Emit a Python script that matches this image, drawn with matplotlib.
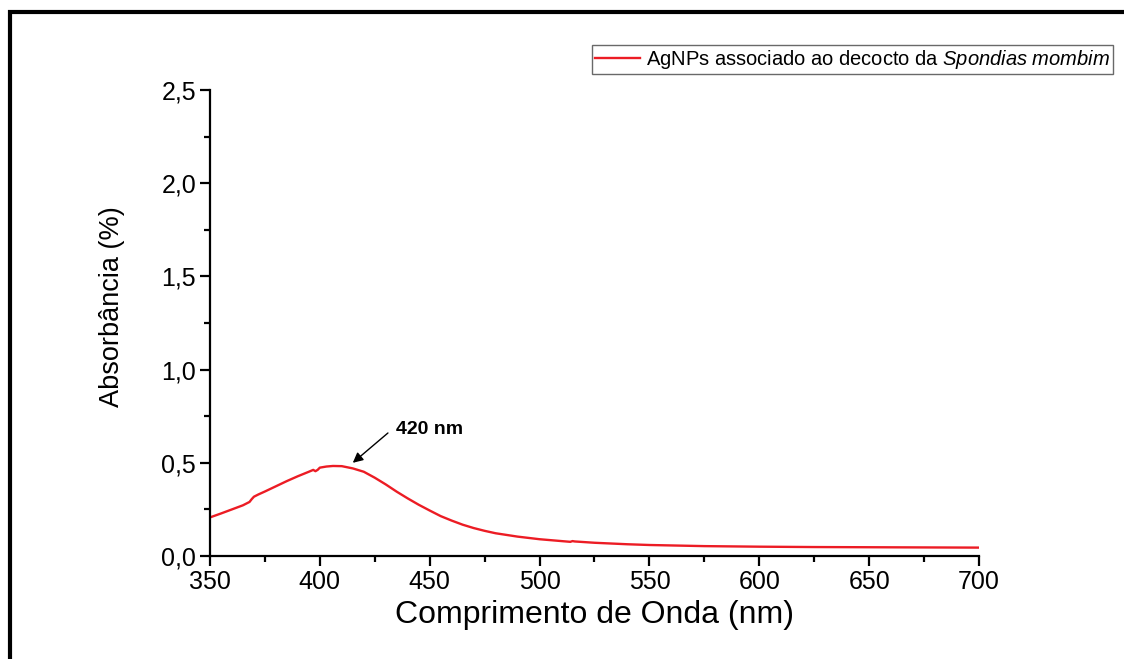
import matplotlib
matplotlib.use("Agg")
import matplotlib.pyplot as plt
from matplotlib import font_manager
from matplotlib.patches import Rectangle

# UV-Vis spectrum of the AgNPs sample (wavelength in nm, absorbance)
wavelength = [350, 355, 360, 365, 368, 369, 370, 372, 375, 380, 385, 390, 395, 397,
              398, 399, 400, 403, 406, 410, 415, 420, 425, 430, 435, 440, 445, 450,
              455, 460, 465, 470, 475, 480, 490, 500, 510, 514, 515, 516, 525, 540,
              550, 575, 600, 625, 650, 675, 700]
absorbance = [0.207, 0.228, 0.250, 0.272, 0.290, 0.305, 0.318, 0.330, 0.346, 0.374, 0.402,
              0.428, 0.452, 0.462, 0.455, 0.462, 0.474, 0.480, 0.483, 0.482, 0.470, 0.452,
              0.420, 0.384, 0.345, 0.309, 0.275, 0.244, 0.214, 0.190, 0.168, 0.150, 0.135,
              0.122, 0.104, 0.090, 0.080, 0.076, 0.080, 0.078, 0.071, 0.063, 0.059, 0.053,
              0.050, 0.048, 0.047, 0.046, 0.045]

x_ticks = [350, 400, 450, 500, 550, 600, 650, 700]
y_ticks = [0.0, 0.5, 1.0, 1.5, 2.0, 2.5]
y_tick_labels = ["0,0", "0,5", "1,0", "1,5", "2,0", "2,5"]

series_label = "AgNPs associado ao decocto da $\\it{Spondias\\ mombim}$"
peak_label = "420 nm"
arrow_head = (415, 0.50)
arrow_tail = (431, 0.66)
peak_text_xy = (434.5, 0.68)

available = {f.name for f in font_manager.fontManager.ttflist}
narrow = "Liberation Sans Narrow" if "Liberation Sans Narrow" in available else "Liberation Sans"

plt.rcParams["font.family"] = ["Liberation Sans", "DejaVu Sans"]
plt.rcParams["mathtext.fontset"] = "custom"
plt.rcParams["mathtext.rm"] = "Liberation Sans"
plt.rcParams["mathtext.it"] = "Liberation Sans:italic"

fig = plt.figure(figsize=(11.24, 6.59), dpi=100)
ax = fig.add_axes([0.1868, 0.1563, 0.6842, 0.7071])

ax.plot(wavelength, absorbance, color="#ec1c24", linewidth=1.7, label=series_label)

ax.set_xlim(350, 700)
ax.set_ylim(0, 2.5)
ax.set_xticks(x_ticks)
ax.set_xticks(range(375, 700, 50), minor=True)
ax.set_yticks(y_ticks)
ax.set_yticklabels(y_tick_labels)
ax.set_yticks([0.25, 0.75, 1.25, 1.75, 2.25], minor=True)

for side in ["top", "right"]:
    ax.spines[side].set_visible(False)
for side in ["left", "bottom"]:
    ax.spines[side].set_linewidth(1.6)

ax.tick_params(which="major", direction="out", length=7, width=1.6, labelsize=18, pad=3)
ax.tick_params(which="minor", direction="out", length=4.5, width=1.6)

ax.set_xlabel("Comprimento de Onda (nm)", fontsize=23)
ax.xaxis.set_label_coords(0.5, -0.095)
ax.set_ylabel("Absorbância (%)", fontsize=19.5, family=[narrow, "DejaVu Sans"])
ax.yaxis.set_label_coords(-0.11, 0.536)

# peak marker: arrow plus bold label
ax.annotate("", xy=arrow_head, xytext=arrow_tail,
            arrowprops=dict(arrowstyle="-|>", color="black", lw=1.0, mutation_scale=15,
                            shrinkA=0, shrinkB=0))
ax.text(peak_text_xy[0], peak_text_xy[1], peak_label, fontsize=14, fontweight="bold",
        ha="left", va="center")

leg = ax.legend(loc="upper right", bbox_to_anchor=(1113 / 1124, 1 - 45 / 659),
                bbox_transform=fig.transFigure, fontsize=14.5, frameon=True, fancybox=False,
                handlelength=2.2, handletextpad=0.3, borderpad=0.15, borderaxespad=0)
leg.get_frame().set_edgecolor("#444444")
leg.get_frame().set_linewidth(1.0)

# heavy frame around the figure, open at the right and bottom edges
fig.patches.append(Rectangle((10 / 1124, -0.05), 1.1, 1 - 12 / 659 + 0.05,
                             transform=fig.transFigure, fill=False, edgecolor="black",
                             linewidth=3.0, zorder=10))

fig.savefig("out.png", dpi=100)
